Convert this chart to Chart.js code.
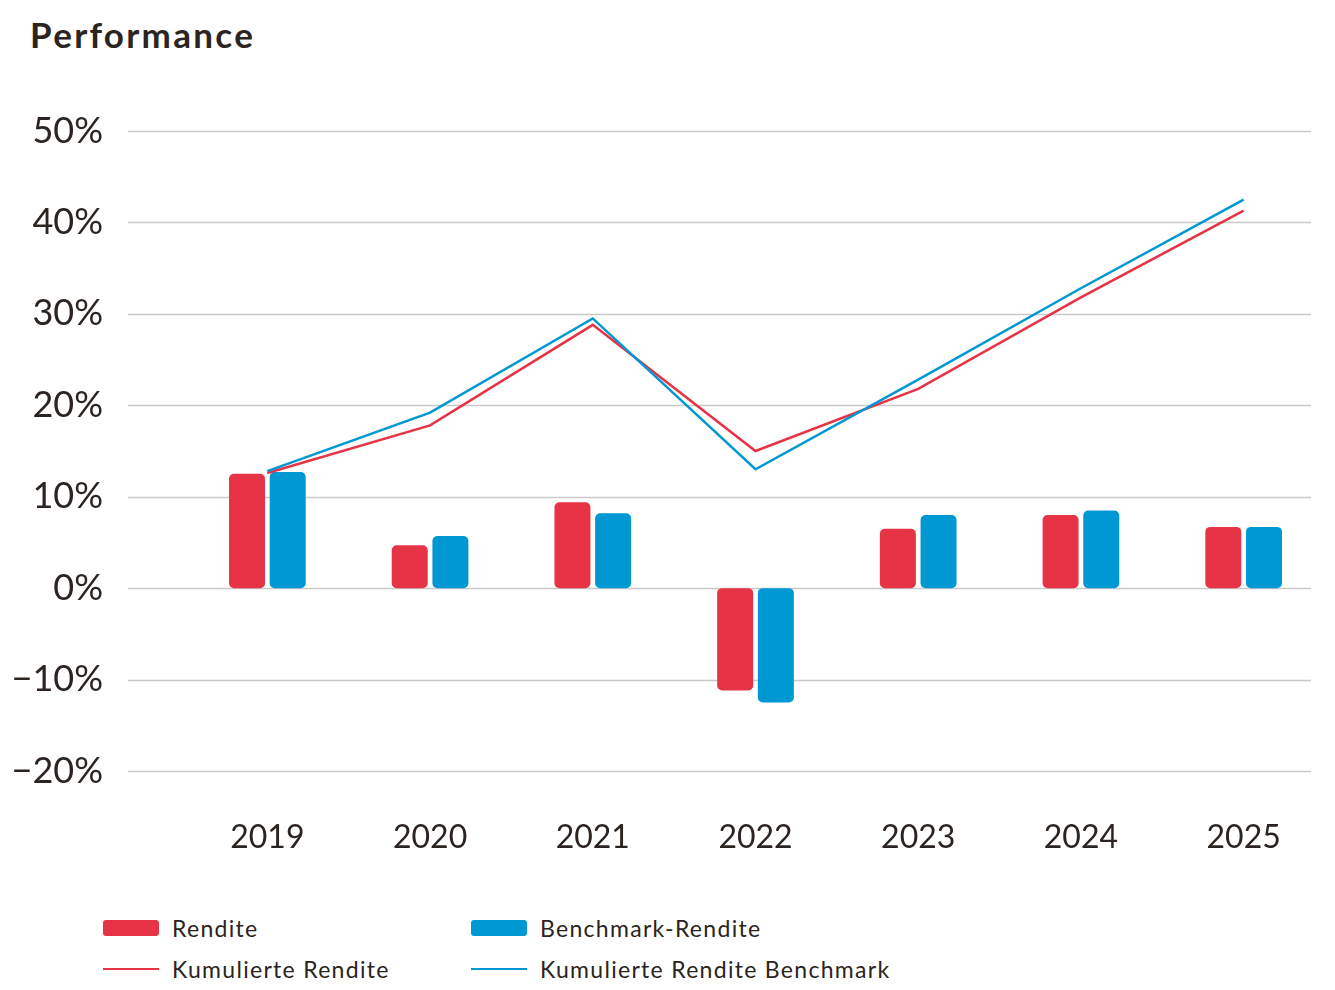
<!DOCTYPE html>
<html lang="de">
<head>
<meta charset="utf-8">
<title>Performance</title>
<script src="https://cdn.jsdelivr.net/npm/chart.js@4.4.1/dist/chart.umd.min.js"></script>
<style>
  html, body { margin: 0; padding: 0; background: #fff; }
  body { width: 1335px; height: 990px; position: relative; overflow: hidden; font-family: "Lato", "Open Sans", sans-serif; color: #2b2420; }
  h1 { position: absolute; left: 30px; top: 13px; margin: 0; font-size: 35px; font-weight: 700; letter-spacing: 2.3px; color: #2b2420; }
  #wrap { position: absolute; left: 0; top: 0; width: 1335px; height: 880px; }
  .legend { position: absolute; left: 0; top: 0; width: 1335px; }
  .item { position: absolute; display: flex; align-items: center; font-size: 23px; letter-spacing: 1.3px; height: 30px; white-space: nowrap; }
  .item .sw { width: 56px; margin-right: 13px; }
</style>
</head>
<body>
<h1>Performance</h1>
<div id="wrap"><canvas id="chart"></canvas></div>
<div class="legend" id="legend"></div>

<script>
  const years = ["2019", "2020", "2021", "2022", "2023", "2024", "2025"]

  // Jahresrenditen in %
  const rendite = [12.5, 4.7, 9.4, -11.2, 6.5, 8.0, 6.7]
  const benchmarkRendite = [12.7, 5.7, 8.2, -12.5, 8.0, 8.5, 6.7]

  // kumulierte Renditen in %
  const kumRendite = [12.6, 17.8, 28.8, 15.0, 21.8, 31.8, 41.3]
  const kumBenchmark = [12.8, 19.2, 29.5, 13.0, 22.8, 32.8, 42.5]

  const yTickValues = [-20, -10, 0, 10, 20, 30, 40, 50]
  const yTickLabels = ["\u221220%", "\u221210%", "0%", "10%", "20%", "30%", "40%", "50%"]

  const RED = "#e63346"
  const BLUE = "#0098d2"
  const GRID = "#c9c9c9"
  const TEXT = "#2b2420"

  // horizontal grid lines run further left than the plot area
  const gridLines = {
    id: "gridLines",
    beforeDatasetsDraw(chart) {
      const { ctx } = chart
      const y = chart.scales.y
      ctx.save()
      ctx.strokeStyle = GRID
      ctx.lineWidth = 1.3
      y.ticks.forEach(t => {
        const py = Math.round(y.getPixelForValue(t.value)) + 0.5
        ctx.beginPath()
        ctx.moveTo(128, py)
        ctx.lineTo(1311, py)
        ctx.stroke()
      })
      ctx.restore()
    }
  }

  const chart = new Chart(document.getElementById("chart"), {
    type: "bar",
    data: {
      labels: years,
      datasets: [
        {
          type: "line",
          label: "Kumulierte Rendite Benchmark",
          data: kumBenchmark,
          borderColor: BLUE,
          backgroundColor: BLUE,
          borderWidth: 2.5,
          pointRadius: 0,
          tension: 0,
          order: 0
        },
        {
          type: "line",
          label: "Kumulierte Rendite",
          data: kumRendite,
          borderColor: RED,
          backgroundColor: RED,
          borderWidth: 2.5,
          pointRadius: 0,
          tension: 0,
          order: 1
        },
        {
          label: "Rendite",
          data: rendite,
          backgroundColor: RED,
          borderRadius: 5,
          borderSkipped: false,
          categoryPercentage: 0.5,
          barPercentage: 0.885,
          order: 2
        },
        {
          label: "Benchmark-Rendite",
          data: benchmarkRendite,
          backgroundColor: BLUE,
          borderRadius: 5,
          borderSkipped: false,
          categoryPercentage: 0.5,
          barPercentage: 0.885,
          order: 2
        }
      ]
    },
    options: {
      responsive: true,
      maintainAspectRatio: false,
      animation: false,
      layout: { padding: { top: 131, right: 10, bottom: 9, left: 0 } },
      plugins: {
        legend: { display: false },
        tooltip: { enabled: false }
      },
      scales: {
        x: {
          grid: { display: false, drawTicks: false },
          border: { display: false },
          ticks: {
            color: TEXT,
            padding: 47,
            font: { family: "Lato", size: 32 }
          },
          afterFit(s) { s.height = 100 }
        },
        y: {
          min: -20,
          max: 50,
          afterBuildTicks(s) { s.ticks = yTickValues.map(v => ({ value: v })) },
          grid: { display: false, drawTicks: false },
          border: { display: false },
          ticks: {
            color: TEXT,
            padding: 83,
            font: { family: "Lato", size: 36 },
            callback: v => yTickLabels[yTickValues.indexOf(v)]
          },
          afterFit(s) { s.width = 186 }
        }
      }
    },
    plugins: [gridLines]
  })

  // legend in two columns, built from the datasets
  const legendSpots = {
    "Rendite": [103, 913, "bar"],
    "Benchmark-Rendite": [471, 913, "bar"],
    "Kumulierte Rendite": [103, 954, "line"],
    "Kumulierte Rendite Benchmark": [471, 954, "line"]
  }
  const legend = document.getElementById("legend")
  chart.data.datasets.forEach(ds => {
    const [x, y, kind] = legendSpots[ds.label]
    const item = document.createElement("div")
    item.className = "item"
    item.style.left = x + "px"
    item.style.top = y + "px"
    const sw = document.createElement("span")
    sw.className = "sw"
    sw.style.background = ds.backgroundColor
    sw.style.height = kind === "bar" ? "16px" : "2.5px"
    sw.style.borderRadius = kind === "bar" ? "3px" : "0"
    item.appendChild(sw)
    item.appendChild(document.createTextNode(ds.label))
    legend.appendChild(item)
  })
</script>
</body>
</html>
